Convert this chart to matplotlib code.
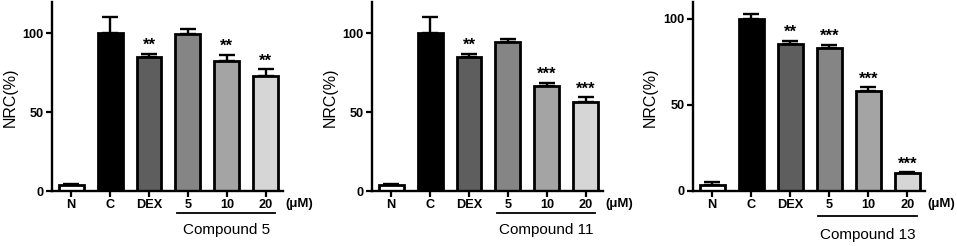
import matplotlib
matplotlib.use("Agg")
import matplotlib.pyplot as plt
import matplotlib.transforms as mtransforms

plt.rcParams["font.family"] = ["Liberation Sans", "DejaVu Sans"]

GROUPS = ["N", "C", "DEX", "5", "10", "20"]
COLORS = ["#ffffff", "#000000", "#5e5e5e", "#858585", "#a4a4a4", "#d6d6d6"]

# panel values
CPD5_MEAN = [3.5, 100, 85, 99.5, 82.5, 72.8]
CPD5_ERR = [1.0, 10, 2, 3.5, 4, 4.5]
CPD5_STARS = ["", "", "**", "", "**", "**"]

CPD11_MEAN = [3.5, 100, 85, 94.5, 66.7, 56.5]
CPD11_ERR = [1.0, 10, 2, 2, 2, 3]
CPD11_STARS = ["", "", "**", "", "***", "***"]

CPD13_MEAN = [3.5, 100, 85.3, 83, 58.2, 10.1]
CPD13_ERR = [1.8, 3, 2, 2, 2, 0.8]
CPD13_STARS = ["", "", "**", "***", "***", "***"]

PANELS = [
    ("Compound 5", CPD5_MEAN, CPD5_ERR, CPD5_STARS, 120),
    ("Compound 11", CPD11_MEAN, CPD11_ERR, CPD11_STARS, 120),
    ("Compound 13", CPD13_MEAN, CPD13_ERR, CPD13_STARS, 110),
]

W, H = 957, 246
fig = plt.figure(figsize=(W / 100, H / 100), dpi=100)

# axes boxes in pixels: left, right, bottom(from top), top(from top)
boxes = [(51.7, 283.3, 191, 1.7), (371.7, 603.3, 191, 1.7), (692.7, 925, 190.7, 1.7)]
line_y = [-0.118, -0.118, -0.134]
name_y = [-0.206, -0.206, -0.234]
ylab_x = [10, 330, 650]


def draw_panel(ax, name, mean, err, stars, ytop, ly, ny):
    x = list(range(len(GROUPS)))
    ax.bar(x, mean, width=0.64, color=COLORS, edgecolor="black", linewidth=2.0, zorder=2)
    ax.errorbar(x, mean, yerr=[[0] * len(err), err], fmt="none", ecolor="black",
                elinewidth=1.7, capsize=5.5, capthick=1.7, zorder=1)
    for xi, m, e, s in zip(x, mean, err, stars):
        if s:
            ax.annotate(s, (xi, m + e), xytext=(0, 2.6), textcoords="offset points",
                        ha="center", va="baseline", fontsize=12, fontweight="bold")
    ax.set_xlim(-0.5, 5.45)
    ax.set_ylim(0, ytop)
    ax.set_yticks([0, 50, 100])
    ax.set_xticks(x)
    ax.set_xticklabels(GROUPS)
    for lab in ax.get_xticklabels() + ax.get_yticklabels():
        lab.set_fontweight("bold")
    ax.tick_params(axis="both", labelsize=9.2, width=1.6, length=4, pad=2)
    ax.spines[["top", "right"]].set_visible(False)
    ax.spines[["left", "bottom"]].set_linewidth(1.7)

    trans = mtransforms.blended_transform_factory(ax.transData, ax.transAxes)
    ax.text(5.5, -0.068, "(\u03bcM)", transform=trans, ha="left", va="center",
            fontsize=9.5, fontweight="bold")
    ax.plot([2.72, 5.24], [ly, ly], transform=trans, color="black", lw=1.3,
            clip_on=False)
    ax.text(3.98, ny, name, transform=trans, ha="center", va="center", fontsize=11)


for (name, mean, err, stars, ytop), (l, r, b, t), ly, ny, lx in zip(PANELS, boxes, line_y, name_y, ylab_x):
    ax = fig.add_axes([l / W, 1 - b / H, (r - l) / W, (b - t) / H])
    draw_panel(ax, name, mean, err, stars, ytop, ly, ny)
    fig.text(lx / W, 1 - 97 / H, "NRC(%)", rotation=90, ha="center", va="center",
             fontsize=11.5)

fig.savefig("out.png", dpi=100)
